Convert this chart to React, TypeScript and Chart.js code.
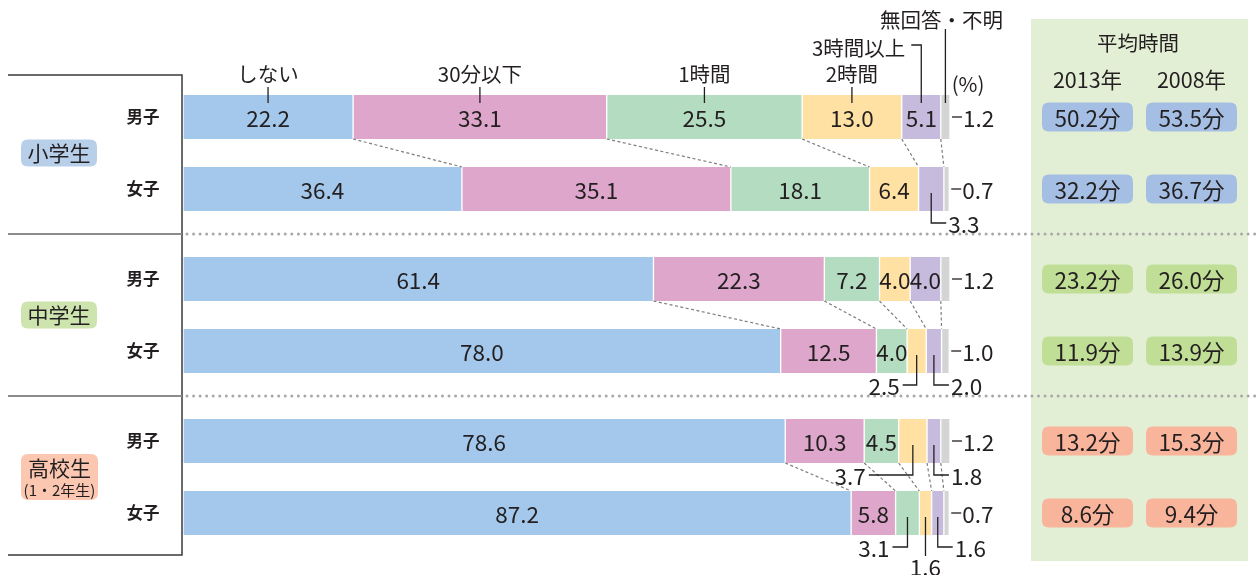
import { useEffect, useRef } from "react";
import { Chart, registerables } from "chart.js";
Chart.register(...registerables);

// ---- data ----
const groups = ["小学生", "中学生", "高校生"];
const groupSub = ["", "", "(1・2年生)"];
const rowLabels = ["男子", "女子", "男子", "女子", "男子", "女子"];
const categories = ["しない", "30分以下", "1時間", "2時間", "3時間以上", "無回答・不明"];
const none = [22.2, 36.4, 61.4, 78.0, 78.6, 87.2];
const upTo30 = [33.1, 35.1, 22.3, 12.5, 10.3, 5.8];
const oneHour = [25.5, 18.1, 7.2, 4.0, 4.5, 3.1];
const twoHours = [13.0, 6.4, 4.0, 2.5, 3.7, 1.6];
const threePlus = [5.1, 3.3, 4.0, 2.0, 1.8, 1.6];
const noAnswer = [1.2, 0.7, 1.2, 1.0, 1.2, 0.7];
const avgTitle = "平均時間";
const avgYears = ["2013年", "2008年"];
const avg2013 = [50.2, 32.2, 23.2, 11.9, 13.2, 8.6];
const avg2008 = [53.5, 36.7, 26.0, 13.9, 15.3, 9.4];
const unitLabel = "(%)";

const series = [none, upTo30, oneHour, twoHours, threePlus, noAnswer];

// ---- layout / style ----
const rowPos = [0, 1, 2.25, 3.25, 4.5, 5.5];
const segColors = ["#a3c8eb", "#dda6ca", "#b3dcc0", "#fee1a3", "#c6badd", "#d3d4d6"];
const groupPill = ["#b8cfea", "#cde4ae", "#fbc7b0"];
const avgPill = ["#a5bfe4", "#c0de96", "#f9b59b"];
const callouts = [
  { row: 1, seg: 4, side: "right", len: 15 },
  { row: 3, seg: 3, side: "left", len: 14 },
  { row: 3, seg: 4, side: "right", len: 15 },
  { row: 4, seg: 3, side: "left", len: 44 },
  { row: 4, seg: 4, side: "right", len: 15 },
  { row: 5, seg: 2, side: "left", len: 15 },
  { row: 5, seg: 3, side: "down", len: 0 },
  { row: 5, seg: 4, side: "right", len: 15 },
];
const FONT = '"Noto Sans CJK JP", "Noto Sans", sans-serif';
const INK = "#231f20";
const HALF = 22;
const NUM = 22.5;

function text(ctx: any, s: string, x: number, y: number, size: number, align: any = "center", weight = "normal", color = INK) {
  ctx.save();
  ctx.font = `${weight} ${size}px ${FONT}`;
  ctx.fillStyle = color;
  ctx.textAlign = align;
  ctx.textBaseline = "middle";
  ctx.fillText(s, x, y);
  ctx.restore();
}
function poly(ctx: any, pts: number[][], color = INK, w = 1.3, dash: number[] = []) {
  ctx.save();
  ctx.strokeStyle = color;
  ctx.lineWidth = w;
  ctx.setLineDash(dash);
  ctx.beginPath();
  pts.forEach((p, i) => (i === 0 ? ctx.moveTo(p[0], p[1]) : ctx.lineTo(p[0], p[1])));
  ctx.stroke();
  ctx.restore();
}
function rrect(ctx: any, x: number, y: number, w: number, h: number, r: number, color: string) {
  ctx.save();
  ctx.fillStyle = color;
  ctx.beginPath();
  ctx.moveTo(x + r, y);
  ctx.lineTo(x + w - r, y);
  ctx.quadraticCurveTo(x + w, y, x + w, y + r);
  ctx.lineTo(x + w, y + h - r);
  ctx.quadraticCurveTo(x + w, y + h, x + w - r, y + h);
  ctx.lineTo(x + r, y + h);
  ctx.quadraticCurveTo(x, y + h, x, y + h - r);
  ctx.lineTo(x, y + r);
  ctx.quadraticCurveTo(x, y, x + r, y);
  ctx.closePath();
  ctx.fill();
  ctx.restore();
}

const decor = {
  id: "decor",
  beforeDatasetsDraw(chart: any) {
    const ctx = chart.ctx;
    const ys = chart.scales.y;
    const area = chart.chartArea;
    // right panel background
    ctx.save();
    ctx.fillStyle = "#e3efd5";
    ctx.fillRect(1031, 19, 217, 542);
    ctx.restore();
    // left frame
    const top = area.top, bot = area.bottom, L = 8, R = area.left - 1;
    poly(ctx, [[L, top], [R, top], [R, bot], [L, bot]], "#3a3a3a", 1.5);
    for (let g = 0; g < 2; g++) {
      const y = Math.round(ys.getPixelForValue((rowPos[g * 2 + 1] + rowPos[g * 2 + 2]) / 2));
      poly(ctx, [[L, y], [R, y]], "#8c8c8c", 2);
      ctx.save();
      ctx.fillStyle = "#a8a8a8";
      for (let x = R + 5; x < 1256; x += 6.55) {
        ctx.beginPath();
        ctx.arc(x, y, 1.5, 0, Math.PI * 2);
        ctx.fill();
      }
      ctx.restore();
    }
  },
  afterDatasetsDraw(chart: any) {
    const ctx = chart.ctx;
    const xs = chart.scales.x, ys = chart.scales.y;
    const start = (i: number, k: number) => series.slice(0, k).reduce((a, s) => a + s[i], 0);
    const mid = (i: number, k: number) => xs.getPixelForValue(start(i, k) + series[k][i] / 2);
    const cy = (i: number) => ys.getPixelForValue(rowPos[i]);

    // dashed connectors inside each group
    for (let g = 0; g < 3; g++) {
      const a = g * 2, b = g * 2 + 1;
      for (let k = 1; k < 6; k++) {
        poly(ctx, [[xs.getPixelForValue(start(a, k)), cy(a) + HALF], [xs.getPixelForValue(start(b, k)), cy(b) - HALF]], "#7d7d7d", 1.2, [3, 2.5]);
      }
    }

    // headers
    const t0 = cy(0) - HALF;
    for (let k = 0; k < 4; k++) {
      const x = mid(0, k);
      text(ctx, categories[k], x, t0 - 21, 20.5);
      poly(ctx, [[x, t0 - 8], [x, t0 + 8]]);
    }
    {
      const x = mid(0, 4);
      text(ctx, categories[4], x - 16, t0 - 47, 20.5, "right");
      poly(ctx, [[x - 10, t0 - 50], [x, t0 - 50], [x, t0 + 8]]);
      const x5 = mid(0, 5);
      text(ctx, categories[5], x5 - 4, t0 - 75, 20.5);
      poly(ctx, [[x5, t0 - 66], [x5, t0 + 8]]);
      text(ctx, unitLabel, xs.right + 18, t0 - 11, 20.5);
    }

    // values
    for (let i = 0; i < 6; i++) {
      const y = cy(i);
      for (let k = 0; k < 5; k++) {
        const c = callouts.find((o) => o.row === i && o.seg === k);
        const v = series[k][i].toFixed(1);
        if (!c) {
          text(ctx, v, mid(i, k), y + 1, NUM);
          continue;
        }
        const x = mid(i, k);
        const ly = y + 34;
        if (c.side === "right") {
          poly(ctx, [[x, y + 4], [x, ly], [x + c.len, ly]]);
          text(ctx, v, x + c.len + 2, ly + 1, NUM, "left");
        } else if (c.side === "left") {
          poly(ctx, [[x, y + 4], [x, ly], [x - c.len, ly]]);
          text(ctx, v, x - c.len - 3, ly + 1, NUM, "right");
        } else {
          poly(ctx, [[x, y + 4], [x, y + 43]]);
          text(ctx, v, x, y + 54, NUM);
        }
      }
      const xe = xs.getPixelForValue(start(i, 5) + noAnswer[i]);
      poly(ctx, [[xe + 2, y], [xe + 12, y]]);
      text(ctx, noAnswer[i].toFixed(1), xe + 13, y + 1, NUM, "left");
      text(ctx, rowLabels[i], 143, y, 16.5, "center", "bold");
    }

    // group pills
    for (let g = 0; g < 3; g++) {
      const y = (cy(g * 2) + cy(g * 2 + 1)) / 2;
      if (groupSub[g]) {
        rrect(ctx, 21, y - 23, 77, 46, 7, groupPill[g]);
        text(ctx, groups[g], 59.5, y - 9, 21);
        text(ctx, groupSub[g], 59.5, y + 13, 15);
      } else {
        rrect(ctx, 21, y - 13.5, 76, 27, 7, groupPill[g]);
        text(ctx, groups[g], 59, y, 21);
      }
    }

    // averages panel
    text(ctx, avgTitle, 1138, 43, 20.5);
    const cols = [1087.5, 1191.5];
    avgYears.forEach((s, j) => text(ctx, s, cols[j], 80, 21.5));
    for (let i = 0; i < 6; i++) {
      const y = cy(i);
      [avg2013, avg2008].forEach((arr, j) => {
        rrect(ctx, cols[j] - 45.5, y - 14.5, 91, 29, 7, avgPill[Math.floor(i / 2)]);
        text(ctx, arr[i].toFixed(1) + "分", cols[j], y + 1, NUM);
      });
    }
  },
};

export default function App() {
  const ref = useRef<HTMLCanvasElement>(null);
  useEffect(() => {
    document.body.style.margin = "0";
    const chart = new Chart(ref.current!, {
      type: "bar",
      data: {
        datasets: categories.map((c, k) => ({
          label: c,
          data: series[k].map((v, i) => ({ x: v, y: rowPos[i] })),
          backgroundColor: segColors[k],
          borderColor: "#ffffff",
          borderWidth: { left: 1, right: 1, top: 0, bottom: 0 },
          borderSkipped: false,
          barThickness: 44,
        })),
      },
      options: {
        indexAxis: "y",
        animation: false,
        responsive: false,
        devicePixelRatio: 1,
        layout: { padding: { left: 183, right: 306, top: 75, bottom: 20 } },
        scales: {
          x: { type: "linear", min: 0, max: 100.1, stacked: true, display: false },
          y: { type: "linear", min: -0.5833, max: 6.0833, reverse: true, stacked: true, offset: false, display: false },
        },
        plugins: { legend: { display: false }, tooltip: { enabled: false } },
      } as any,
      plugins: [decor],
    });
    return () => chart.destroy();
  }, []);
  return (
    <div style={{ width: 1256, height: 575, position: "relative", background: "#fff" }}>
      <canvas ref={ref} width={1256} height={575} style={{ width: 1256, height: 575, display: "block" }} />
    </div>
  );
}
